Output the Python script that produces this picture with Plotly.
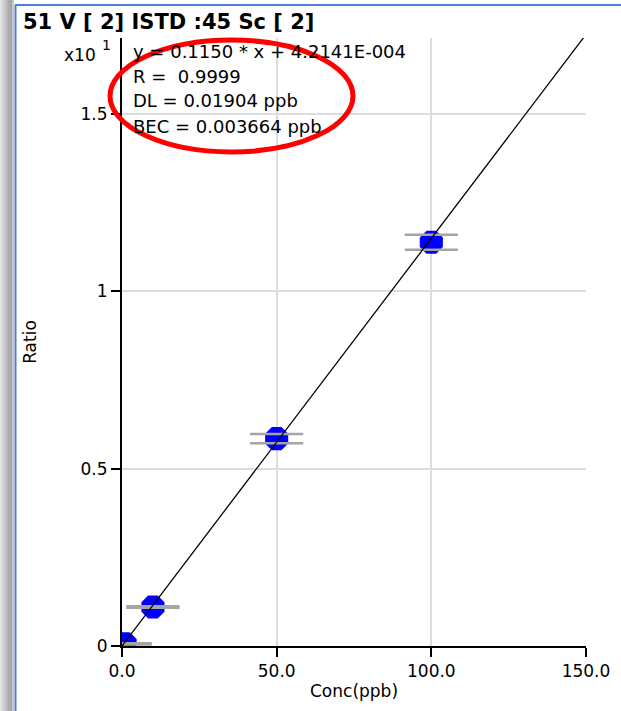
import plotly.graph_objects as go

# ---- data ----
conc = [1.0, 10.0, 50.0, 100.0]
ratio = [0.006, 0.110, 0.585, 1.139]          # in units of x10^1
ratio_err = [0.002, 0.002, 0.013, 0.021]
slope = 0.1150
intercept = 4.2141e-4
fit_x = [0.0, 150.0]
scale = 10.0                                   # axis shows x10^1
x_ticks = [0, 50, 100, 150]
x_ticklabels = ["0.0", "50.0", "100.0", "150.0"]
y_ticks = [0, 0.5, 1, 1.5]
y_ticklabels = ["0", "0.5", "1", "1.5"]
info_lines = ["y = 0.1150 * x + 4.2141E-004", "R =  0.9999",
              "DL = 0.01904 ppb", "BEC = 0.003664 ppb"]
title_text = "51 V [ 2] ISTD :45 Sc [ 2]"

W_FIG, H_FIG = 621, 711
L, R, T, B = 122, 586, 38, 646
PW, PH = R - L, B - T

def px(x):
    return (x - L) / PW

def py(y):
    return (B - y) / PH

FONT = "DejaVu Sans"

fit_y = [(slope * v + intercept) / scale for v in fit_x]
cap_up = [r + e for r, e in zip(ratio, ratio_err)]
cap_dn = [r - e for r, e in zip(ratio, ratio_err)]

fig = go.Figure()
fig.add_trace(go.Scatter(x=conc, y=ratio, mode="markers",
                         marker=dict(symbol="octagon", size=25, color="#0000ff",
                                     line=dict(width=0)),
                         showlegend=False, hoverinfo="skip"))
fig.add_trace(go.Scatter(x=conc + conc, y=cap_up + cap_dn, mode="markers",
                         marker=dict(symbol="line-ew", size=38,
                                     line=dict(width=2.5, color="#a4a4a4")),
                         showlegend=False, hoverinfo="skip"))
fig.add_trace(go.Scatter(x=fit_x, y=fit_y, mode="lines",
                         line=dict(color="black", width=1.3),
                         showlegend=False, hoverinfo="skip"))

shapes = []
# left window shadow
shades = ["#e2e2e2", "#d4d4d4", "#c6c6c6", "#b8b8b8", "#acacac", "#a6a6a6", "#c8c8c8"]
for i, c in enumerate(shades):
    shapes.append(dict(type="rect", xref="paper", yref="paper",
                       x0=px(i * 2), x1=px(i * 2 + 2), y0=py(H_FIG), y1=py(0),
                       fillcolor=c, line=dict(width=0), layer="below"))
# blue border lines
shapes.append(dict(type="line", xref="paper", yref="paper",
                   x0=px(15.5), x1=px(15.5), y0=py(H_FIG), y1=py(5),
                   line=dict(color="#4a7fd4", width=2)))
shapes.append(dict(type="line", xref="paper", yref="paper",
                   x0=px(15), x1=px(W_FIG), y0=py(5), y1=py(5),
                   line=dict(color="#4a7fd4", width=2)))
# red ellipse
shapes.append(dict(type="circle", xref="paper", yref="paper",
                   x0=px(110), x1=px(353), y0=py(152), y1=py(40),
                   line=dict(color="#ff0000", width=5)))

annotations = []
annotations.append(dict(text="<b>" + title_text + "</b>", xref="paper", yref="paper",
                        x=px(21), y=py(22), xanchor="left", yanchor="middle",
                        showarrow=False, font=dict(family=FONT, size=21, color="black")))
annotations.append(dict(text="x10", xref="paper", yref="paper",
                        x=px(98), y=py(55), xanchor="right", yanchor="middle",
                        showarrow=False, font=dict(family=FONT, size=17, color="black")))
annotations.append(dict(text="1", xref="paper", yref="paper",
                        x=px(100), y=py(45), xanchor="left", yanchor="middle",
                        showarrow=False, font=dict(family=FONT, size=14, color="black")))
for i, line in enumerate(info_lines):
    annotations.append(dict(text=line, xref="paper", yref="paper",
                            x=px(131), y=py(51 + 25 * i), xanchor="left", yanchor="middle",
                            showarrow=False, font=dict(family=FONT, size=18, color="black")))

fig.update_layout(
    width=W_FIG, height=H_FIG,
    margin=dict(l=L, r=W_FIG - R, t=T, b=H_FIG - B, pad=0),
    paper_bgcolor="white", plot_bgcolor="white",
    shapes=shapes, annotations=annotations,
    font=dict(family=FONT, size=17, color="black"),
    xaxis=dict(range=[0, 150], tickvals=x_ticks, ticktext=x_ticklabels,
               showgrid=True, gridcolor="#dcdcdc", gridwidth=2,
               zeroline=False, showline=True, linecolor="black", linewidth=2,
               ticks="outside", ticklen=9, tickwidth=2, tickcolor="black",
               title=dict(text="Conc(ppb)", standoff=5, font=dict(size=17)),
               tickfont=dict(size=17), fixedrange=True),
    yaxis=dict(range=[0, 1.715], tickvals=y_ticks, ticktext=y_ticklabels,
               showgrid=True, gridcolor="#dcdcdc", gridwidth=2,
               zeroline=False, showline=True, linecolor="black", linewidth=2,
               ticks="outside", ticklen=9, tickwidth=2, tickcolor="black",
               title=dict(text="Ratio", standoff=40, font=dict(size=17)),
               tickfont=dict(size=17), fixedrange=True),
)

fig.write_html("out.html", config={"displayModeBar": False},
               post_script="document.body.style.margin='0';document.body.style.overflow='hidden';")
